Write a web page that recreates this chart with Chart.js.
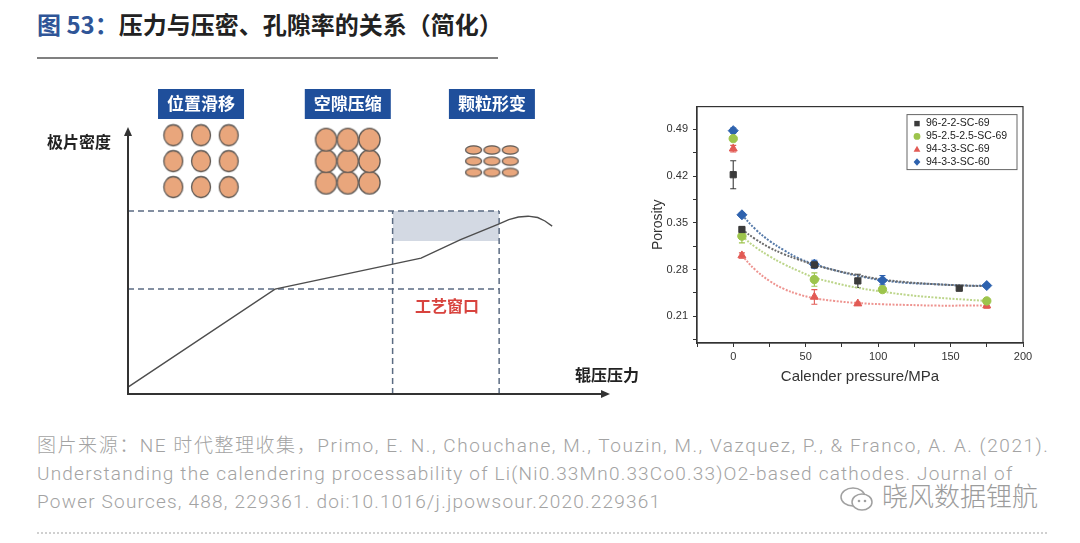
<!DOCTYPE html>
<html>
<head>
<meta charset="utf-8">
<script src="https://cdn.jsdelivr.net/npm/chart.js@4.4.1/dist/chart.umd.min.js"></script>
<style>
html, body { margin: 0; padding: 0; background: #fff; }
body { width: 1080px; height: 543px; position: relative; overflow: hidden;
  font-family: "Noto Sans CJK SC", "Noto Sans", sans-serif; }
#title { position: absolute; left: 37px; top: 6px; font-size: 24px; font-weight: 700; color: #222; white-space: nowrap; }
#title .num { color: #2f5597; }
#rule { position: absolute; left: 37px; top: 57px; width: 461px; height: 2px; background: #808080; }
#left { position: absolute; left: 0; top: 80px; }
#right { position: absolute; left: 640px; top: 95px; }
#source { position: absolute; left: 37px; top: 432px; font-size: 19px; line-height: 28px; color: #a3a3a3;
  white-space: nowrap; font-family: Roboto, "Noto Sans CJK SC", sans-serif; font-weight: 300; letter-spacing: 1.2px; }
#source .wide { letter-spacing: 1.55px; }
#mark { position: absolute; left: 838px; top: 476px; color: #9c9c9c; font-size: 26px; font-weight: 300; white-space: nowrap; }
#mark svg { vertical-align: middle; margin-right: 4px; }
#dots { position: absolute; left: 37px; top: 532px; width: 1010px; border-top: 2px dotted #d0d0d0; }
</style>
</head>
<body>
<div id="title"><span class="num">图 53：</span>压力与压密、孔隙率的关系（简化）</div>
<div id="rule"></div>
<canvas id="left" width="640" height="340"></canvas>
<canvas id="right" width="400" height="300"></canvas>
<div id="source"><span class="wide">图片来源：NE 时代整理收集，Primo, E. N., Chouchane, M., Touzin, M., Vazquez, P., &amp; Franco, A. A. (2021).</span><br>Understanding the calendering processability of Li(Ni0.33Mn0.33Co0.33)O2-based cathodes. Journal of<br>Power Sources, 488, 229361. doi:10.1016/j.jpowsour.2020.229361</div>
<div id="mark"><svg width="40" height="30" viewBox="0 0 40 30"><ellipse cx="15" cy="13" rx="12" ry="9" fill="none" stroke="#a0a0a0" stroke-width="1.5"/><ellipse cx="24" cy="18" rx="10" ry="8" fill="#fff" stroke="#a0a0a0" stroke-width="1.5"/><circle cx="21" cy="17" r="1.3" fill="#a0a0a0"/><circle cx="27" cy="17" r="1.3" fill="#a0a0a0"/></svg>晓风数据锂航</div>
<div id="dots"></div>

<script>
// ---- left: schematic, pole-piece density vs calender pressure (arbitrary units 0-100) ----
var densityPressure = [0, 30.5, 60.8, 69, 77, 79, 81, 83, 85, 86.5, 88];
var densityValue = [2.6, 39.3, 50.9, 57.8, 63.7, 65.3, 66.3, 66.6, 66.1, 64.8, 62.9];
var windowPressure = [54.9, 77];
var windowDensity = [57.3, 68.5];
var densityLevels = [39.3, 68.5];
var stageLabels = ['位置滑移', '空隙压缩', '颗粒形变'];
var stageX = [15.15, 45.6, 75.5];

// ---- right: porosity vs calender pressure ----
var seriesNames = ['96-2-2-SC-69', '95-2.5-2.5-SC-69', '94-3-3-SC-69', '94-3-3-SC-60'];
var pressureA = [0, 6, 56, 86, 156];
var porosityA = [0.422, 0.340, 0.287, 0.263, 0.252];
var errorA = [0.021, 0.004, 0.004, 0.010, 0.003];
var pressureB = [0, 6, 56, 103, 175];
var porosityB = [0.476, 0.330, 0.265, 0.250, 0.233];
var errorB = [0.003, 0.010, 0.010, 0.004, 0.003];
var pressureC = [0, 6, 56, 86, 175];
var porosityC = [0.461, 0.301, 0.239, 0.229, 0.226];
var errorC = [0.005, 0.004, 0.011, 0.002, 0.004];
var pressureD = [0, 6, 56, 103, 175];
var porosityD = [0.488, 0.362, 0.288, 0.264, 0.256];
var errorD = [0.004, 0.003, 0.006, 0.007, 0.003];
// fitted curves
var fitPressure = [6, 15, 25, 35, 45, 56, 70, 85, 103, 120, 140, 160, 175];
var fitA = [0.340, 0.326, 0.313, 0.303, 0.295, 0.287, 0.279, 0.272, 0.265, 0.261, 0.258, 0.256, 0.255];
var fitB = [0.330, 0.314, 0.300, 0.288, 0.278, 0.268, 0.260, 0.253, 0.247, 0.242, 0.238, 0.235, 0.233];
var fitC = [0.301, 0.280, 0.263, 0.251, 0.243, 0.237, 0.233, 0.230, 0.228, 0.227, 0.226, 0.226, 0.226];
var fitD = [0.362, 0.341, 0.323, 0.309, 0.297, 0.288, 0.279, 0.271, 0.264, 0.260, 0.258, 0.256, 0.256];

function pts(xs, ys) { return xs.map(function(x, i) { return {x: x, y: ys[i]}; }); }

// particle sprites for the three stages
function particle(rx, ry) {
  var c = document.createElement('canvas');
  c.width = Math.ceil(rx * 2 + 3); c.height = Math.ceil(ry * 2 + 3);
  var g = c.getContext('2d');
  g.beginPath();
  g.ellipse(c.width / 2, c.height / 2, rx, ry, 0, 0, Math.PI * 2);
  g.fillStyle = '#e9a67c'; g.fill();
  g.lineWidth = 1.3; g.strokeStyle = '#5e5955'; g.stroke();
  return c;
}
var sprites = [particle(9.5, 10.5), particle(10.6, 11.3), particle(8, 4.2)];
var gapX = [5.75, 4.5, 3.8], gapY = [9.7, 8.05, 4.2], stageY = 87.2;

var particleSets = stageLabels.map(function(name, s) {
  var data = [];
  for (var r = -1; r <= 1; r++) for (var c = -1; c <= 1; c++) data.push({x: stageX[s] + c * gapX[s], y: stageY + r * gapY[s]});
  return {label: name, data: data, pointStyle: sprites[s], pointRadius: 10, showLine: false, clip: false, order: 0};
});

var dash = {borderColor: '#5b6b82', borderWidth: 1.5, borderDash: [6, 4], pointRadius: 0, showLine: true, clip: false, order: 2};

var schematic = {
  id: 'schematic',
  afterDatasetsDraw: function(chart) {
    var ctx = chart.ctx, xs = chart.scales.x, ys = chart.scales.y;
    var x0 = xs.getPixelForValue(0), y0 = ys.getPixelForValue(0);
    var x1 = xs.getPixelForValue(100), y1 = ys.getPixelForValue(100);
    ctx.save();
    ctx.strokeStyle = '#333'; ctx.fillStyle = '#333'; ctx.lineWidth = 2;
    ctx.beginPath(); ctx.moveTo(x0, y0); ctx.lineTo(x1 - 6, y0); ctx.moveTo(x0, y0 + 1); ctx.lineTo(x0, y1 + 6); ctx.stroke();
    ctx.beginPath(); ctx.moveTo(x1, y0); ctx.lineTo(x1 - 9, y0 - 4); ctx.lineTo(x1 - 9, y0 + 4); ctx.closePath(); ctx.fill();
    ctx.beginPath(); ctx.moveTo(x0, y1); ctx.lineTo(x0 - 4, y1 + 9); ctx.lineTo(x0 + 4, y1 + 9); ctx.closePath(); ctx.fill();

    ctx.textAlign = 'center'; ctx.textBaseline = 'middle';
    ctx.font = 'bold 16px "Noto Sans CJK SC"';
    ctx.fillStyle = '#222';
    ctx.fillText('极片密度', x0 - 49, y1 + 15);
    ctx.fillText('辊压压力', x1 - 3, y0 - 19);
    ctx.fillStyle = '#d8433e';
    ctx.fillText('工艺窗口', xs.getPixelForValue(66.2), ys.getPixelForValue(33));

    ctx.font = 'bold 17px "Noto Sans CJK SC"';
    stageLabels.forEach(function(t, i) {
      var cx = xs.getPixelForValue(stageX[i]);
      ctx.fillStyle = '#1f4f9b';
      ctx.fillRect(cx - 43, y1 - 38, 86, 30);
      ctx.fillStyle = '#fff';
      ctx.fillText(t, cx, y1 - 23);
    });
    ctx.restore();
  }
};

new Chart(document.getElementById('left'), {
  type: 'scatter',
  data: {
    datasets: [
      {data: pts(densityPressure, densityValue), showLine: true, borderColor: '#4d4d4d', borderWidth: 1.4, pointRadius: 0, clip: false, order: 1},
      Object.assign({data: pts([0, windowPressure[1]], [densityLevels[1], densityLevels[1]])}, dash),
      Object.assign({data: pts([0, windowPressure[1]], [densityLevels[0], densityLevels[0]])}, dash),
      Object.assign({data: pts([windowPressure[0], windowPressure[0]], [0, windowDensity[1]])}, dash),
      Object.assign({data: pts([windowPressure[1], windowPressure[1]], [0, windowDensity[1]])}, dash),
      {data: pts(windowPressure, [windowDensity[1], windowDensity[1]]), showLine: true, borderWidth: 0, pointRadius: 0,
       fill: {value: windowDensity[0]}, backgroundColor: '#d3d9e3', clip: false, order: 5}
    ].concat(particleSets)
  },
  options: {
    responsive: false, animation: false,
    layout: {padding: {left: 128, right: 30, top: 47, bottom: 26}},
    plugins: {legend: {display: false}, tooltip: {enabled: false}},
    scales: {
      x: {type: 'linear', min: 0, max: 100, display: false},
      y: {type: 'linear', min: 0, max: 100, display: false}
    }
  },
  plugins: [schematic]
});

// ---- right chart helpers ----
var errorBars = {
  id: 'errorBars',
  beforeDatasetsDraw: function(chart) {
    var ctx = chart.ctx, xs = chart.scales.x, ys = chart.scales.y;
    chart.data.datasets.forEach(function(ds) {
      if (!ds.err) return;
      ctx.save(); ctx.strokeStyle = ds.borderColor; ctx.lineWidth = 1.1;
      ds.data.forEach(function(p, i) {
        var px = xs.getPixelForValue(p.x);
        var t = ys.getPixelForValue(p.y + ds.err[i]), b = ys.getPixelForValue(p.y - ds.err[i]);
        ctx.beginPath();
        ctx.moveTo(px, t); ctx.lineTo(px, b);
        ctx.moveTo(px - 3, t); ctx.lineTo(px + 3, t);
        ctx.moveTo(px - 3, b); ctx.lineTo(px + 3, b);
        ctx.stroke();
      });
      ctx.restore();
    });
  }
};

function marker(ctx, style, x, y, r) {
  ctx.beginPath();
  if (style === 'rect') ctx.rect(x - r * 0.8, y - r * 0.8, r * 1.6, r * 1.6);
  else if (style === 'circle') ctx.arc(x, y, r, 0, Math.PI * 2);
  else if (style === 'triangle') { ctx.moveTo(x, y - r); ctx.lineTo(x + r, y + r * 0.75); ctx.lineTo(x - r, y + r * 0.75); ctx.closePath(); }
  else { ctx.moveTo(x, y - r * 1.1); ctx.lineTo(x + r, y); ctx.lineTo(x, y + r * 1.1); ctx.lineTo(x - r, y); ctx.closePath(); }
  ctx.fill();
}

var frameAndLegend = {
  id: 'frameAndLegend',
  afterDraw: function(chart) {
    var ctx = chart.ctx, a = chart.chartArea;
    ctx.save();
    ctx.strokeStyle = '#333'; ctx.lineWidth = 1.2;
    ctx.strokeRect(a.left, a.top, a.right - a.left, a.bottom - a.top);
    var w = 110, h = 55, left = a.right - w - 6, top = a.top + 8;
    ctx.fillStyle = '#fff'; ctx.fillRect(left, top, w, h);
    ctx.strokeStyle = '#666'; ctx.lineWidth = 1; ctx.strokeRect(left, top, w, h);
    ctx.font = '10.5px "Liberation Sans", Arial, sans-serif';
    ctx.textBaseline = 'middle'; ctx.textAlign = 'left';
    chart.data.datasets.filter(function(d) { return d.err; }).forEach(function(d, i) {
      var cy = top + 9 + i * 12.8;
      ctx.fillStyle = d.backgroundColor;
      marker(ctx, d.pointStyle, left + 10, cy, 3.4);
      ctx.fillStyle = '#222';
      ctx.fillText(d.label, left + 19, cy);
    });
    ctx.restore();
  }
};

var colors = ['#3b3b3b', '#9dc44c', '#e25a54', '#2e62ae'];
var fitColors = ['#6a6a6a', '#bcd58a', '#ee9490', '#5579a8'];
var styles = ['rect', 'circle', 'triangle', 'rectRot'];
var radii = [4.4, 4.2, 4.6, 5];
var pointSets = [pts(pressureA, porosityA), pts(pressureB, porosityB), pts(pressureC, porosityC), pts(pressureD, porosityD)];
var errorSets = [errorA, errorB, errorC, errorD];
var fitSets = [fitA, fitB, fitC, fitD];

var rightSets = [];
fitSets.forEach(function(f, i) {
  rightSets.push({label: 'fit ' + seriesNames[i], data: pts(fitPressure, f), showLine: true, tension: 0.4,
    borderColor: fitColors[i], borderWidth: 2, borderDash: [2, 1.5], pointRadius: 0, order: 2});
});
pointSets.forEach(function(p, i) {
  rightSets.push({label: seriesNames[i], data: p, err: errorSets[i], pointStyle: styles[i], pointRadius: radii[i],
    backgroundColor: colors[i], borderColor: colors[i], borderWidth: 1, order: 1});
});

var tickFont = {family: '"Liberation Sans", Arial, sans-serif', size: 11};
new Chart(document.getElementById('right'), {
  type: 'scatter',
  data: {datasets: rightSets},
  options: {
    responsive: false, animation: false,
    layout: {padding: {top: 5, right: 17}},
    plugins: {legend: {display: false}, tooltip: {enabled: false}},
    scales: {
      x: {
        type: 'linear', min: -25, max: 200,
        afterFit: function(s) { s.height = 52; },
        border: {color: '#333', width: 1.2},
        grid: {drawOnChartArea: false, tickLength: 4, color: '#333'},
        ticks: {stepSize: 25, padding: 3, color: '#333', font: tickFont, maxRotation: 0,
          callback: function(v) { return v % 50 === 0 ? String(v) : ''; }},
        title: {display: true, text: 'Calender pressure/MPa', color: '#333', padding: {top: 0, bottom: 9},
          font: {family: '"Liberation Sans", Arial, sans-serif', size: 15}}
      },
      y: {
        type: 'linear', min: 0.17, max: 0.524,
        afterFit: function(s) { s.width = 57; },
        border: {color: '#333', width: 1.2},
        grid: {drawOnChartArea: false, tickLength: 4, color: '#333'},
        ticks: {stepSize: 0.035, includeBounds: false, padding: 5, color: '#333', font: tickFont,
          callback: function(v) { var k = v / 0.07; return Math.abs(k - Math.round(k)) < 1e-6 ? v.toFixed(2) : ''; }},
        title: {display: true, text: 'Porosity', color: '#333', padding: {top: 10, bottom: 0},
          font: {family: '"Liberation Sans", Arial, sans-serif', size: 14}}
      }
    }
  },
  plugins: [errorBars, frameAndLegend]
});
</script>
</body>
</html>
